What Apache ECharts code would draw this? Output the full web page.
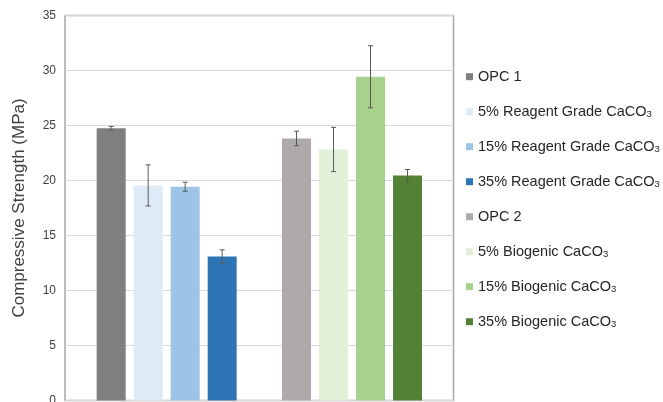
<!DOCTYPE html>
<html>
<head>
<meta charset="utf-8">
<script src="https://cdn.jsdelivr.net/npm/echarts@6/dist/echarts.min.js"></script>
<style>
  html, body { margin: 0; padding: 0; background: #ffffff; }
  #chart { width: 663px; height: 402px; }
</style>
</head>
<body>
<div id="chart"></div>
<script>
// Two mix groups, four bars each
const groups = ['Reagent Grade', 'Biogenic'];
const seriesNames = [
  'OPC 1',
  '5% Reagent Grade CaCO3',
  '15% Reagent Grade CaCO3',
  '35% Reagent Grade CaCO3',
  'OPC 2',
  '5% Biogenic CaCO3',
  '15% Biogenic CaCO3',
  '35% Biogenic CaCO3'
];
const seriesColors = [
  '#7f7f7f', '#deebf7', '#9dc3e6', '#2e75b6',
  '#aeaaaa', '#e2f0d9', '#a9d18e', '#548235'
];

// Mean compressive strength (MPa) and standard deviation
const reagentMeans = [24.75, 19.55, 19.43, 13.09];
const reagentErr = [0.17, 1.87, 0.41, 0.61];
const biogenicMeans = [23.82, 22.82, 29.43, 20.45];
const biogenicErr = [0.66, 2.01, 2.82, 0.55];

// Value axis
const yMin = 0, yMax = 35, yStep = 5;

const BAR_W = 29;
const BAR_GAP = 8;
const FONT = 'Arial, "Liberation Sans", Helvetica, sans-serif';

const chart = echarts.init(document.getElementById('chart'), null, { renderer: 'canvas' });

const barSeries = seriesNames.map((name, i) => {
  const isReagent = i < 4;
  const k = i % 4;
  const data = isReagent ? [reagentMeans[k], '-'] : ['-', biogenicMeans[k]];
  return {
    name: name,
    type: 'bar',
    xAxisIndex: 1,
    yAxisIndex: 1,
    stack: 'col' + k,
    barWidth: BAR_W,
    barGap: (BAR_GAP / BAR_W * 100).toFixed(1) + '%',
    itemStyle: { color: seriesColors[i] },
    data: data,
    z: 2
  };
});

const errData = [];
reagentMeans.forEach((m, k) => errData.push([0, k, m, reagentErr[k]]));
biogenicMeans.forEach((m, k) => errData.push([1, k, m, biogenicErr[k]]));

const errorSeries = {
  type: 'custom',
  name: 'error',
  xAxisIndex: 1,
  yAxisIndex: 1,
  z: 5,
  silent: true,
  encode: { x: 0, y: 2 },
  data: errData,
  renderItem: function (params, api) {
    const cat = api.value(0);
    const slot = api.value(1);
    const mean = api.value(2);
    const err = api.value(3);
    const hi = api.coord([cat, mean + err]);
    const lo = api.coord([cat, mean - err]);
    const x = hi[0] + (slot - 1.5) * (BAR_W + BAR_GAP);
    const cap = 2.5;
    const style = { stroke: '#595959', lineWidth: 1 };
    return {
      type: 'group',
      children: [
        { type: 'line', shape: { x1: x, y1: hi[1], x2: x, y2: lo[1] }, style: style },
        { type: 'line', shape: { x1: x - cap, y1: hi[1], x2: x + cap, y2: hi[1] }, style: style },
        { type: 'line', shape: { x1: x - cap, y1: lo[1], x2: x + cap, y2: lo[1] }, style: style }
      ]
    };
  }
};

const option = {
  backgroundColor: '#ffffff',
  animation: false,
  textStyle: { fontFamily: FONT },
  grid: [
    {
      left: 65, right: 209.5, top: 15.5, bottom: 1.5,
      outerBoundsMode: 'none',
      show: true, borderColor: '#a6a6a6', borderWidth: 1.5,
      backgroundColor: 'transparent'
    },
    { left: 74, right: 218.3, top: 15.5, bottom: 1.5, outerBoundsMode: 'none' }
  ],
  xAxis: [
    { gridIndex: 0, type: 'category', data: groups, show: false },
    { gridIndex: 1, type: 'category', data: groups, show: false }
  ],
  yAxis: [
    {
      gridIndex: 0,
      type: 'value',
      min: yMin, max: yMax, interval: yStep,
      name: 'Compressive Strength (MPa)',
      nameLocation: 'middle',
      nameGap: 37,
      nameTextStyle: { fontSize: 17, color: '#404040', fontFamily: FONT },
      axisLine: { show: false },
      axisTick: { show: false },
      axisLabel: { fontSize: 12, color: '#404040', margin: 9, fontFamily: FONT },
      splitLine: { show: true, lineStyle: { color: '#d9d9d9', width: 1 } }
    },
    { gridIndex: 1, type: 'value', min: yMin, max: yMax, interval: yStep, show: false }
  ],
  legend: {
    orient: 'vertical',
    left: 466,
    top: 68.7,
    padding: 0,
    icon: 'rect',
    itemWidth: 7,
    itemHeight: 7,
    itemGap: 19,
    data: seriesNames,
    formatter: function (name) {
      return name.replace('CaCO3', 'CaCO{sub|3}');
    },
    textStyle: {
      fontSize: 14.5,
      color: '#262626',
      fontFamily: FONT,
      lineHeight: 16,
      rich: {
        sub: { fontSize: 9.5, fontFamily: FONT, color: '#262626', verticalAlign: 'bottom', lineHeight: 16, padding: [6, 0, 0, 0] }
      }
    }
  },
  series: barSeries.concat([errorSeries])
};

chart.setOption(option);
</script>
</body>
</html>
